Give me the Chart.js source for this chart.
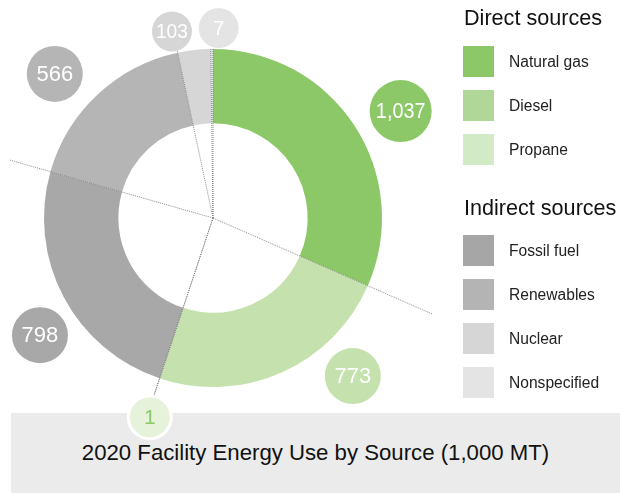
<!DOCTYPE html>
<html>
<head>
<meta charset="utf-8">
<script src="https://cdn.jsdelivr.net/npm/chart.js@4.4.1/dist/chart.umd.min.js"></script>
<style>
  html, body { margin: 0; padding: 0; background: #fff; }
  body { width: 620px; height: 493px; position: relative; overflow: hidden; font-family: "Liberation Sans", Arial, sans-serif; }
  #titleBox {
    position: absolute; left: 11px; top: 413px; width: 609px; height: 80px;
    background: #ebebeb; color: #111; font-size: 22.2px;
    display: flex; align-items: center; justify-content: center;
  }
  #chart { position: absolute; left: 0; top: 0; }
  .legend-head { position: absolute; left: 464px; font-size: 21.6px; line-height: 21px; color: #111; white-space: nowrap; }
  .legend-item { position: absolute; left: 463px; height: 31px; display: flex; align-items: center; font-size: 15.6px; color: #222; white-space: nowrap; }
  .legend-item span.sw { width: 31px; height: 31px; margin-right: 15px; display: inline-block; }
</style>
</head>
<body>
<div id="titleBox">2020 Facility Energy Use by Source (1,000 MT)</div>
<canvas id="chart" width="620" height="493"></canvas>
<div id="legend"></div>

<script>
// data
const categories = ['Natural gas', 'Diesel', 'Propane', 'Fossil fuel', 'Renewables', 'Nuclear', 'Nonspecified'];
const values = [1037, 773, 1, 798, 566, 103, 7];
const groupNames = ['Direct sources', 'Indirect sources'];
const groupOf = [0, 0, 0, 1, 1, 1, 1];

// styles
const arcColors = ['#8cc868', '#c4e1ae', '#e6f2d9', '#a8a8a8', '#b5b5b5', '#d6d6d6', '#e4e4e4'];
const swatchColors = ['#8cc868', '#b0d797', '#d3eac6', '#a6a6a6', '#b4b4b4', '#d6d6d6', '#e4e4e4'];
const bubbleText = ['#fff', '#fff', '#8cc868', '#fff', '#fff', '#fff', '#fff'];
const bubbleRadius = [31, 28, 20, 28, 28, 20, 20];
const bubbleFont = [22, 22, 21, 22, 22, 20, 20];
const bubbleBorder = [0, 0, 3, 0, 0, 0, 0];
// label placement relative to slice middle (degrees) and distance from centre
const labelTurn = [3.5, -17.5, -0.8, -6.3, -4.6, -6, 2.1];
const labelDist = [216, 211, 209, 209, 214, 191, 190];

// legend
const legend = document.getElementById('legend');
const headTops = [7, 197];
const firstSwatch = [46, 235];
groupNames.forEach((g, gi) => {
  const h = document.createElement('div');
  h.className = 'legend-head';
  h.style.top = headTops[gi] + 'px';
  h.textContent = g;
  legend.appendChild(h);
  let row = 0;
  categories.forEach((c, i) => {
    if (groupOf[i] !== gi) return;
    const item = document.createElement('div');
    item.className = 'legend-item';
    item.style.top = (firstSwatch[gi] + row * 44) + 'px';
    item.innerHTML = '<span class="sw" style="background:' + swatchColors[i] + '"></span>' + c;
    legend.appendChild(item);
    row++;
  });
});

const bubblePlugin = {
  id: 'bubbles',
  afterDatasetsDraw(chart) {
    const ctx = chart.ctx;
    const arcs = chart.getDatasetMeta(0).data;
    const area = chart.chartArea;
    const cx = arcs[0].x, cy = arcs[0].y;

    // dotted leader lines on the slice boundaries
    ctx.save();
    ctx.beginPath();
    ctx.rect(area.left - 34, area.top, area.right - area.left + 84, 370);
    ctx.clip();
    ctx.strokeStyle = 'rgba(120,120,120,0.85)';
    ctx.lineWidth = 1;
    ctx.setLineDash([1, 1]);
    arcs.forEach(a => {
      ctx.beginPath();
      ctx.moveTo(cx, cy);
      ctx.lineTo(cx + Math.cos(a.startAngle) * 300, cy + Math.sin(a.startAngle) * 300);
      ctx.stroke();
    });
    ctx.restore();

    // value bubbles
    arcs.forEach((a, i) => {
      const ang = (a.startAngle + a.endAngle) / 2 + labelTurn[i] * Math.PI / 180;
      const bx = cx + Math.cos(ang) * labelDist[i];
      const by = cy + Math.sin(ang) * labelDist[i];
      ctx.save();
      if (bubbleBorder[i]) {
        ctx.beginPath();
        ctx.arc(bx, by, bubbleRadius[i] + bubbleBorder[i], 0, Math.PI * 2);
        ctx.fillStyle = '#fff';
        ctx.fill();
      }
      ctx.beginPath();
      ctx.arc(bx, by, bubbleRadius[i], 0, Math.PI * 2);
      ctx.fillStyle = arcColors[i];
      ctx.fill();
      ctx.fillStyle = bubbleText[i];
      ctx.font = bubbleFont[i] + 'px "Liberation Sans", Arial, sans-serif';
      ctx.textAlign = 'center';
      ctx.textBaseline = 'middle';
      ctx.fillText(values[i].toLocaleString('en-US'), bx, by + 1, bubbleRadius[i] * 1.6);
      ctx.restore();
    });
  }
};

new Chart(document.getElementById('chart'), {
  type: 'doughnut',
  data: {
    labels: categories,
    datasets: [{
      data: values,
      backgroundColor: arcColors,
      borderWidth: 0,
      hoverOffset: 0
    }]
  },
  options: {
    responsive: false,
    animation: false,
    cutout: '56%',
    layout: { padding: { left: 44, top: 49, right: 238, bottom: 106 } },
    plugins: {
      legend: { display: false },
      tooltip: { enabled: false },
      title: { display: false }
    }
  },
  plugins: [bubblePlugin]
});
</script>
</body>
</html>
